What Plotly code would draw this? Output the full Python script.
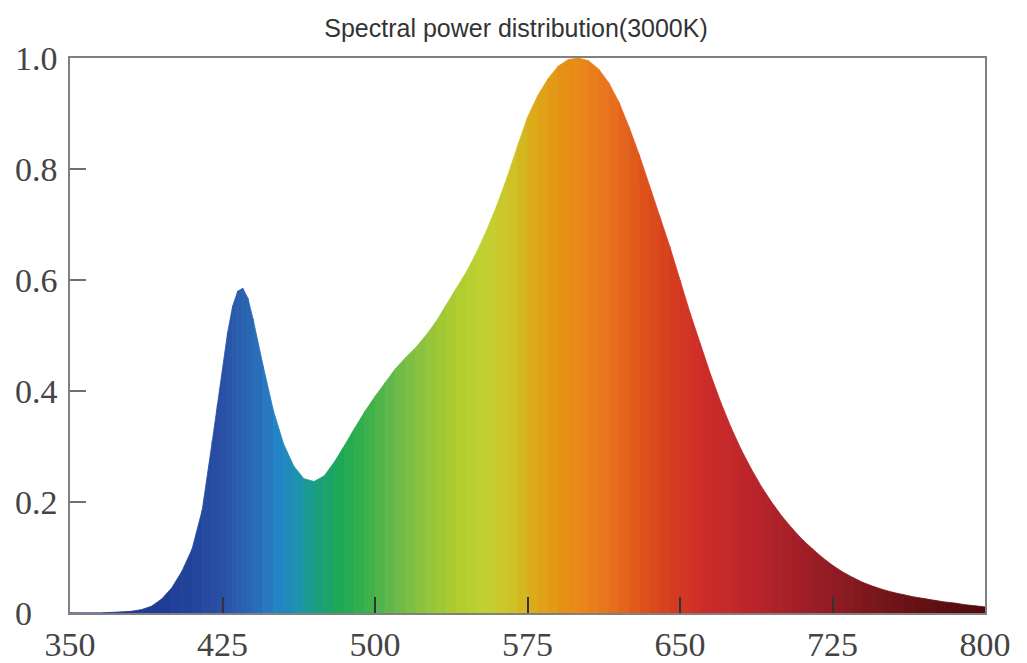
import plotly.graph_objects as go

# Wavelength (nm) and relative spectral power
wavelengths = (
    [350, 355, 360, 365, 370, 375, 380, 385, 390, 395, 400, 405, 410, 415, 420,
     422.5, 425, 427.5, 430, 432.5, 435, 437.5, 440, 445]
    + list(range(450, 805, 5))
)
power = [
    0.0, 0.0, 0.0, 0.0, 0.001, 0.002, 0.003, 0.006, 0.012, 0.025,   # 350-395
    0.045, 0.075, 0.115, 0.185, 0.31,                                # 400-420
    0.375, 0.44, 0.505, 0.553, 0.58, 0.585, 0.567, 0.53, 0.445,      # 422.5-445
    0.365, 0.305, 0.265, 0.242, 0.237, 0.247, 0.272, 0.302, 0.333, 0.363,  # 450-495
    0.39, 0.415, 0.44, 0.46, 0.478, 0.50, 0.525, 0.555, 0.585, 0.615,  # 500-545
    0.65, 0.69, 0.735, 0.785, 0.84, 0.893, 0.932, 0.962, 0.985, 0.997,  # 550-595
    1.0, 0.995, 0.98, 0.955, 0.92, 0.875, 0.825, 0.77, 0.715, 0.66,  # 600-645
    0.60, 0.54, 0.485, 0.43, 0.38, 0.335, 0.295, 0.26, 0.228, 0.20,  # 650-695
    0.175, 0.153, 0.133, 0.116, 0.10, 0.086, 0.074, 0.064, 0.055, 0.048,  # 700-745
    0.042, 0.037, 0.033, 0.029, 0.026, 0.023, 0.02, 0.018, 0.015, 0.013,  # 750-795
    0.011,  # 800
]

x_ticks = [350, 425, 500, 575, 650, 725, 800]
y_ticks = [0, 0.2, 0.4, 0.6, 0.8, 1.0]
y_tick_text = ["0", "0.2", "0.4", "0.6", "0.8", "1.0"]
title_text = "Spectral power distribution(3000K)"

# Colour stops for the spectral fill (styling)
color_stops = [
    (350, (30, 50, 140)), (400, (32, 62, 150)), (425, (40, 80, 165)),
    (440, (42, 105, 180)), (452, (35, 130, 200)), (462, (30, 145, 175)),
    (472, (25, 160, 125)), (482, (28, 168, 88)), (495, (55, 175, 75)),
    (510, (105, 185, 75)), (525, (145, 195, 60)), (540, (175, 205, 45)),
    (555, (195, 208, 50)), (567, (205, 195, 40)), (578, (220, 170, 25)),
    (590, (228, 148, 20)), (602, (234, 135, 25)), (615, (232, 115, 30)),
    (630, (222, 85, 25)), (645, (215, 62, 32)), (660, (205, 45, 40)),
    (680, (192, 38, 42)), (700, (170, 32, 40)), (725, (145, 28, 36)),
    (750, (115, 22, 26)), (775, (95, 15, 18)), (800, (80, 10, 12)),
]


def spectral_color(wl):
    for (w0, c0), (w1, c1) in zip(color_stops[:-1], color_stops[1:]):
        if w0 <= wl <= w1:
            t = (wl - w0) / (w1 - w0) if w1 > w0 else 0
            r, g, b = (round(a + (bb - a) * t) for a, bb in zip(c0, c1))
            return f"rgb({r},{g},{b})"
    r, g, b = color_stops[-1][1]
    return f"rgb({r},{g},{b})"


fig = go.Figure()
for i in range(len(wavelengths) - 1):
    x0, x1 = wavelengths[i], wavelengths[i + 1]
    y0, y1 = power[i], power[i + 1]
    col = spectral_color((x0 + x1) / 2)
    fig.add_trace(go.Scatter(
        x=[x0, x0, x1, x1, x0], y=[0, y0, y1, 0, 0],
        mode="lines", fill="toself", fillcolor=col,
        line=dict(width=0.8, color=col), hoverinfo="skip", showlegend=False,
    ))

# Left-align the y labels like the reference: pad the short "0" label
label_width = max(len(t) for t in y_tick_text)
y_tick_labels = [t if len(t) == label_width else t + "\u00a0" * 3 for t in y_tick_text]

W, H = 1019, 655
fig.update_layout(
    width=W, height=H,
    margin=dict(l=62, r=42, t=50, b=50, autoexpand=False),
    paper_bgcolor="white", plot_bgcolor="white",
    title=dict(text=title_text, x=508 / W, xref="container", xanchor="center",
               y=1 - 20 / H, yref="container", yanchor="middle",
               font=dict(family="Liberation Sans", size=25, color="#333333")),
    showlegend=False,
)
fig.update_xaxes(
    range=[350, 800], tickvals=x_ticks, ticktext=[str(v) for v in x_ticks],
    ticks="inside", ticklen=16, tickwidth=1.5, tickcolor="#333333",
    showline=True, linecolor="#808080", linewidth=1.5, mirror=True,
    showgrid=False, zeroline=False, automargin=False, ticklabelstandoff=0,
    tickfont=dict(family="Liberation Serif", size=34, color="#444444"),
)
fig.update_yaxes(
    range=[0, 1.0], tickvals=y_ticks, ticktext=y_tick_labels,
    ticks="inside", ticklen=16, tickwidth=1.5, tickcolor="#707070",
    showline=True, linecolor="#808080", linewidth=1.5, mirror=True,
    showgrid=False, zeroline=False, ticklabelstandoff=4, automargin=False,
    tickfont=dict(family="Liberation Serif", size=34, color="#444444"),
)

fig.write_html("out.html")
